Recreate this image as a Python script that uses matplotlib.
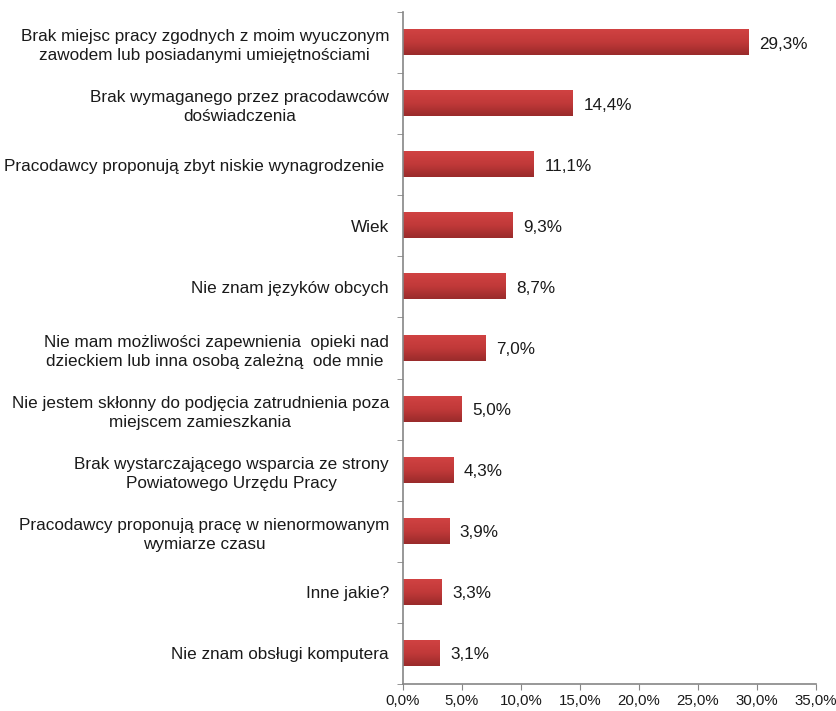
import numpy as np
import matplotlib
matplotlib.use("Agg")
import matplotlib.pyplot as plt
from matplotlib.colors import LinearSegmentedColormap
from matplotlib.ticker import FixedLocator, MultipleLocator, FuncFormatter

plt.rcParams['font.family'] = ['Liberation Sans', 'DejaVu Sans']

categories = [
    "Brak miejsc pracy zgodnych z moim wyuczonym\nzawodem lub posiadanymi umiejętnościami",
    "Brak wymaganego przez pracodawców\ndoświadczenia",
    "Pracodawcy proponują zbyt niskie wynagrodzenie ",
    "Wiek",
    "Nie znam języków obcych",
    "Nie mam możliwości zapewnienia  opieki nad\ndzieckiem lub inna osobą zależną  ode mnie ",
    "Nie jestem skłonny do podjęcia zatrudnienia poza\nmiejscem zamieszkania",
    "Brak wystarczającego wsparcia ze strony\nPowiatowego Urzędu Pracy",
    "Pracodawcy proponują pracę w nienormowanym\nwymiarze czasu",
    "Inne jakie?",
    "Nie znam obsługi komputera",
]
values = [29.3, 14.4, 11.1, 9.3, 8.7, 7.0, 5.0, 4.3, 3.9, 3.3, 3.1]

fig = plt.figure(figsize=(8.36, 7.11), dpi=100)
ax = fig.add_axes([0.482, 0.038, 0.494, 0.945])

n = len(values)
ypos = np.arange(n)[::-1]
bar_h = 0.41
bars = ax.barh(ypos, values, height=bar_h, color='none', edgecolor='none')

cmap = LinearSegmentedColormap.from_list('rg', ['#d04242', '#c13939', '#9a2b2b'])
grad = np.linspace(0, 1, 64).reshape(-1, 1)
for b in bars:
    x0, y0 = b.get_x(), b.get_y()
    w, h = b.get_width(), b.get_height()
    ax.imshow(grad, cmap=cmap, aspect='auto', extent=[x0, x0 + w, y0, y0 + h],
              origin='upper', zorder=2)

for y, v in zip(ypos, values):
    ax.annotate(f"{v:.1f}%".replace('.', ','), xy=(v, y), xytext=(7.5, -1),
                textcoords='offset points', va='center', ha='left',
                fontsize=12.3, color='#1a1a1a')

ax.set_xlim(0, 35)
ax.set_ylim(-0.5, n - 0.5)
ax.xaxis.set_major_locator(MultipleLocator(5))
ax.xaxis.set_major_formatter(FuncFormatter(lambda x, p: f"{x:.1f}%".replace('.', ',')))
ax.set_yticks(ypos)
ax.set_yticklabels(categories, multialignment='center', fontsize=12.3, color='#1a1a1a',
                   linespacing=1.35)
ax.yaxis.set_minor_locator(FixedLocator(np.arange(-0.5, n, 1.0)))
ax.tick_params(axis='y', which='major', length=0, pad=10)
ax.tick_params(axis='y', which='minor', length=4, color='#868686', direction='out')
ax.tick_params(axis='x', which='major', length=4, color='#868686', direction='out',
               labelsize=10.8, labelcolor='#1a1a1a', pad=3)
for s in ['top', 'right']:
    ax.spines[s].set_visible(False)
for s in ['left', 'bottom']:
    ax.spines[s].set_color('#868686')
    ax.spines[s].set_linewidth(1.2)

fig.savefig('out.png', dpi=100)
